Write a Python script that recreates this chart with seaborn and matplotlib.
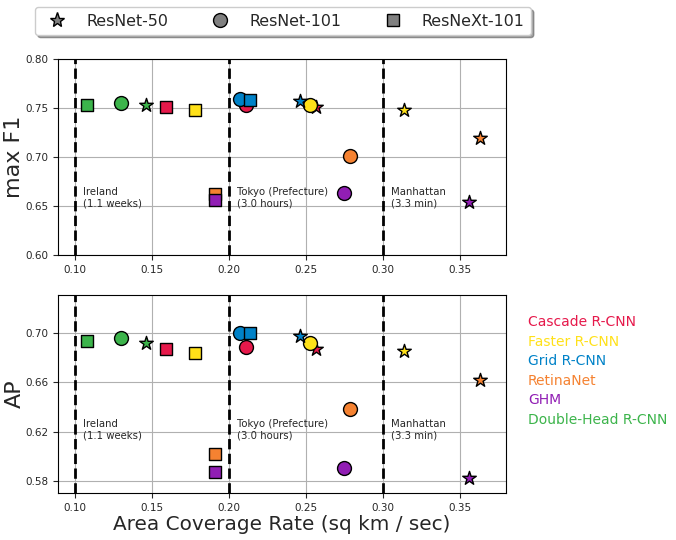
import matplotlib
matplotlib.use("Agg")
import matplotlib.pyplot as plt
import seaborn as sns
import pandas as pd
from matplotlib.lines import Line2D

methods = ["Double-Head R-CNN", "Double-Head R-CNN", "Double-Head R-CNN",
           "Cascade R-CNN", "Faster R-CNN", "Grid R-CNN", "Cascade R-CNN",
           "Grid R-CNN", "Grid R-CNN", "Faster R-CNN", "Cascade R-CNN",
           "Faster R-CNN", "RetinaNet", "RetinaNet", "GHM", "RetinaNet",
           "GHM", "GHM"]
backbones = ["ResNeXt-101", "ResNet-101", "ResNet-50",
             "ResNeXt-101", "ResNeXt-101", "ResNet-101", "ResNet-101",
             "ResNeXt-101", "ResNet-50", "ResNet-101", "ResNet-50",
             "ResNet-50", "ResNet-50", "ResNet-101", "ResNet-101", "ResNeXt-101",
             "ResNeXt-101", "ResNet-50"]
rate = [0.1076, 0.1300, 0.1461,
        0.1593, 0.1781, 0.2071, 0.2110,
        0.2138, 0.2459, 0.2530, 0.2565,
        0.3136, 0.3632, 0.2786, 0.2747, 0.1911,
        0.1911, 0.3558]
max_f1 = [0.7530, 0.7548, 0.7527,
          0.7507, 0.7476, 0.7589, 0.7530,
          0.7579, 0.7575, 0.7530, 0.7513,
          0.7480, 0.7190, 0.7010, 0.6633, 0.6623,
          0.6561, 0.6540]
ap = [0.6932, 0.6959, 0.6918,
      0.6867, 0.6842, 0.7000, 0.6891,
      0.7000, 0.6976, 0.6918, 0.6869,
      0.6853, 0.6616, 0.6385, 0.5904, 0.6018,
      0.5871, 0.5822]

method_order = ["Cascade R-CNN", "Faster R-CNN", "Grid R-CNN",
                "RetinaNet", "GHM", "Double-Head R-CNN"]
method_colors = ["#e6194b", "#ffe119", "#0082c8", "#f58231", "#911eb4", "#3cb44b"]
backbone_order = ["ResNet-50", "ResNet-101", "ResNeXt-101"]
region_x = [0.10, 0.20, 0.30]
region_labels = ["Ireland\n(1.1 weeks)", "Tokyo (Prefecture)\n(3.0 hours)",
                 "Manhattan\n(3.3 min)"]

df = pd.DataFrame({"method": methods, "backbone": backbones, "rate": rate,
                   "max F1": max_f1, "AP": ap})
palette = dict(zip(method_order, method_colors))
marker_of = {"ResNet-50": "*", "ResNet-101": "o", "ResNeXt-101": "s"}
size_of = {"ResNet-50": 105, "ResNet-101": 100, "ResNeXt-101": 75}

sns.set_style("ticks")
plt.rcParams['font.family'] = ['DejaVu Sans']

fig = plt.figure(figsize=(6.76, 5.4), dpi=100)
ax1 = fig.add_axes([58/676, 1-255/540, 448/676, 196/540])
ax2 = fig.add_axes([58/676, 1-493/540, 448/676, 198/540])

panels = [(ax1, "max F1", (0.60, 0.80), [0.60, 0.65, 0.70, 0.75, 0.80], 0.647, "%.2f"),
          (ax2, "AP", (0.57, 0.731), [0.58, 0.62, 0.66, 0.70], 0.613, "%.2f")]

for ax, col, ylim, yt, ty, fmt in panels:
    ax.grid(True, color="#b0b0b0", linewidth=0.8, zorder=0)
    ax.set_axisbelow(True)
    for xv in region_x:
        ax.axvline(xv, color="black", linestyle="--", linewidth=2, zorder=1)
    for xv, lab in zip(region_x, region_labels):
        ax.text(xv + 0.005, ty, lab, fontsize=7.3, va="bottom", ha="left", zorder=2)
    for m in method_order:
        for b in backbone_order:
            sub = df[(df.method == m) & (df.backbone == b)]
            if len(sub) == 0:
                continue
            sns.scatterplot(data=sub, x="rate", y=col, ax=ax, color=palette[m],
                            marker=marker_of[b], s=size_of[b], edgecolor="black",
                            linewidth=1, legend=False, zorder=3)
    ax.set_xlim(0.089, 0.38)
    ax.set_ylim(*ylim)
    ax.set_yticks(yt)
    ax.set_yticklabels([fmt % v for v in yt])
    ax.set_xticks([0.10, 0.15, 0.20, 0.25, 0.30, 0.35])
    ax.set_xticklabels(["%.2f" % v for v in [0.10, 0.15, 0.20, 0.25, 0.30, 0.35]])
    ax.tick_params(labelsize=7.5, direction="out", length=3.5, width=0.8)
    ax.set_ylabel(col, fontsize=16, labelpad=0.5)
    ax.set_xlabel("")
    for sp in ax.spines.values():
        sp.set_visible(True)
        sp.set_linewidth(0.8)
        sp.set_color("black")

ax2.set_xlabel("Area Coverage Rate (sq km / sec)", fontsize=14.4, labelpad=2)

handles = [Line2D([], [], linestyle="none", marker=marker_of[b], markersize=ms,
                  markerfacecolor="gray", markeredgecolor="black", label=b)
           for b, ms in zip(backbone_order, [11, 10, 9])]
fig.legend(handles=handles, loc="center", bbox_to_anchor=(283/676, 1-21/540),
           ncol=3, fontsize=11.4, frameon=True, shadow=True, fancybox=True,
           columnspacing=2.25, handletextpad=0.85, edgecolor="#cccccc")

for i, (m, c) in enumerate(zip(method_order, method_colors)):
    fig.text(528/676, 1-(322 + i*19.6)/540, m, color=c, fontsize=10, va="center", ha="left")

fig.savefig("out.png", dpi=100)
